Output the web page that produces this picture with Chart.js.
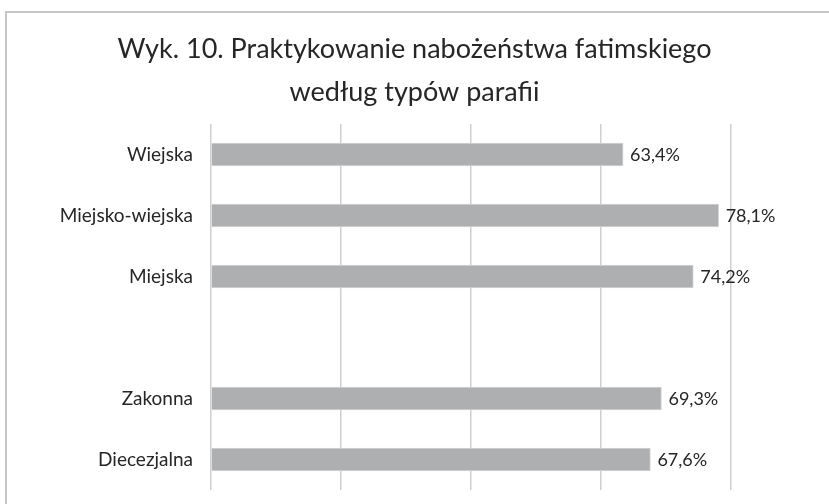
<!DOCTYPE html>
<html><head><meta charset="utf-8">
<script src="https://cdn.jsdelivr.net/npm/chart.js@4/dist/chart.umd.min.js"></script>
<style>
html,body{margin:0;padding:0;background:#fff;}
#wrap{position:relative;width:829px;height:504px;overflow:hidden;}
#frame{position:absolute;left:5px;top:11px;width:900px;height:600px;border-top:2px solid #c6c6c6;border-left:2px solid #c6c6c6;box-sizing:border-box;}
canvas{position:absolute;left:0;top:0;}
</style></head>
<body>
<div id="wrap"><div id="frame"></div><canvas id="c" width="829" height="504"></canvas></div>
<script>
const titleLines = ['Wyk. 10. Praktykowanie nabożeństwa fatimskiego', 'według typów parafii'];
const categories = ['Wiejska', 'Miejsko-wiejska', 'Miejska', '', 'Zakonna', 'Diecezjalna'];
const values = [63.4, 78.1, 74.2, null, 69.3, 67.6];
const xTicks = [0, 20, 40, 60, 80];

const FONT = 'Lato, "Open Sans", sans-serif';

const valueLabels = {
  id: 'valueLabels',
  afterDatasetsDraw(chart) {
    const ctx = chart.ctx;
    const meta = chart.getDatasetMeta(0);
    ctx.save();
    ctx.font = '18px ' + FONT;
    ctx.fillStyle = '#262626';
    ctx.textAlign = 'left';
    ctx.textBaseline = 'middle';
    meta.data.forEach((bar, i) => {
      const v = values[i];
      if (v === null || v === undefined) return;
      ctx.fillText(v.toFixed(1).replace('.', ',') + '%', bar.x + 7, bar.y + 1);
    });
    ctx.restore();
  }
};

new Chart(document.getElementById('c'), {
  type: 'bar',
  data: {
    labels: categories,
    datasets: [{
      data: values,
      backgroundColor: '#aeafb1',
      borderColor: '#d6d6d8',
      borderWidth: 1,
      barThickness: 23
    }]
  },
  options: {
    indexAxis: 'y',
    responsive: false,
    animation: false,
    layout: { padding: { left: 0, right: 0, top: 0, bottom: 14 } },
    plugins: {
      legend: { display: false },
      tooltip: { enabled: false },
      title: {
        display: true,
        text: titleLines,
        color: '#262626',
        font: { family: FONT, size: 27, weight: 'normal', lineHeight: '43px' },
        padding: { top: 28, bottom: 10 }
      }
    },
    scales: {
      x: {
        min: 0, max: 80,
        afterBuildTicks(scale) { scale.ticks = xTicks.map(v => ({ value: v })); },
        afterFit(scale) { scale.height = 0; },
        ticks: { display: false },
        grid: { color: '#cfcfcf', lineWidth: 1.5, drawTicks: false },
        border: { display: false }
      },
      y: {
        afterFit(scale) { scale.width = 211; scale.paddingTop = 0; scale.paddingBottom = 0; },
        ticks: { color: '#262626', font: { family: FONT, size: 19 }, padding: 18 },
        grid: { display: false, drawTicks: false },
        border: { display: false }
      },
      yRight: {
        axis: 'y',
        position: 'right',
        afterFit(scale) { scale.width = 98; scale.paddingTop = 0; scale.paddingBottom = 0; },
        ticks: { display: false },
        grid: { display: false, drawTicks: false },
        border: { display: false }
      }
    }
  },
  plugins: [valueLabels]
});
</script>
</body></html>
